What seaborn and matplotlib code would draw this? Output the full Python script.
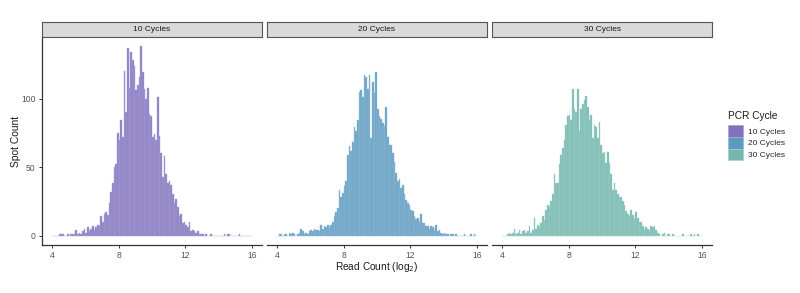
import numpy as np
import pandas as pd
import matplotlib
matplotlib.use("Agg")
import matplotlib.pyplot as plt
import seaborn as sns
from matplotlib.patches import Patch

# ---------------- data ----------------
cycles = ["10 Cycles", "20 Cycles", "30 Cycles"]
bin_start = 4.0
bin_width = 0.1
x_ticks = [4, 8, 12, 16]
y_ticks = [0, 50, 100]

# spot counts per 0.1-wide log2 read-count bin, starting at 4.0
counts_10 = [0, 0, 0, 0, 1, 1, 1, 0, 0, 1,
             0, 1, 1, 1, 4, 1, 2, 1, 3, 5,
             2, 6, 3, 5, 7, 4, 6, 8, 7, 14,
             10, 16, 17, 15, 24, 32, 38, 50, 52, 75,
             70, 84, 72, 120, 90, 137, 108, 134, 128, 124,
             106, 110, 116, 138, 119, 107, 100, 108, 89, 87,
             72, 74, 70, 101, 73, 60, 43, 58, 45, 38,
             40, 37, 30, 24, 27, 21, 14, 16, 9, 10,
             8, 6, 10, 3, 4, 3, 2, 3, 1, 1,
             1, 0, 1, 0, 0, 1, 0, 0, 0, 0,
             0, 0, 0, 1, 0, 1, 1, 0, 0, 0,
             0, 0, 1, 0, 0, 0, 0, 0, 0, 0]
counts_20 = [0, 1, 1, 0, 1, 1, 0, 2, 1, 2,
             1, 0, 1, 2, 5, 3, 1, 2, 1, 3,
             4, 3, 5, 4, 4, 3, 8, 5, 7, 6,
             8, 6, 8, 10, 14, 17, 20, 33, 28, 31,
             36, 40, 59, 65, 62, 68, 79, 76, 84, 105,
             106, 101, 117, 116, 107, 117, 71, 112, 104, 119,
             92, 87, 85, 82, 80, 94, 72, 66, 66, 60,
             54, 46, 40, 41, 35, 37, 30, 26, 24, 22,
             19, 18, 14, 12, 13, 10, 16, 9, 9, 7,
             7, 5, 7, 6, 4, 8, 3, 4, 2, 1,
             2, 1, 1, 0, 1, 1, 0, 1, 0, 0,
             0, 0, 1, 0, 0, 0, 1, 0, 1, 0]
counts_30 = [0, 0, 0, 1, 2, 1, 2, 5, 1, 2,
             4, 1, 3, 4, 2, 3, 7, 2, 4, 13,
             5, 8, 6, 9, 14, 11, 19, 22, 21, 25,
             30, 45, 38, 38, 52, 59, 64, 70, 81, 87,
             88, 84, 107, 92, 90, 107, 76, 92, 96, 99,
             102, 94, 84, 88, 71, 81, 79, 71, 83, 66,
             60, 61, 53, 61, 53, 45, 33, 38, 33, 30,
             28, 28, 25, 22, 18, 16, 14, 19, 15, 12,
             17, 13, 10, 10, 7, 4, 6, 5, 3, 7,
             6, 7, 4, 2, 1, 0, 1, 2, 0, 1,
             1, 0, 1, 0, 0, 0, 0, 0, 1, 0,
             0, 0, 0, 1, 0, 1, 0, 1, 0, 0]

fill_colors = ["#8C80C4", "#6CA3C6", "#7DBDB4"]
edge_colors = ["#ABA2D5", "#93BCD6", "#A0D0C8"]
key_colors = ["#7F71BB", "#5F9BC0", "#73B7AE"]

all_counts = [counts_10, counts_20, counts_30]
n_bins = len(counts_10)
bin_end = bin_start + bin_width * n_bins
centers = bin_start + bin_width * (np.arange(n_bins) + 0.5)

frames = []
for c, cnt in zip(cycles, all_counts):
    frames.append(pd.DataFrame({"cycle": c, "read": centers, "spots": cnt}))
df = pd.concat(frames, ignore_index=True)

# ---------------- figure ----------------
sns.set_theme(style="ticks")
plt.rcParams["font.family"] = ["Liberation Sans", "DejaVu Sans"]

W, H = 800, 293
fig = plt.figure(figsize=(W / 100, H / 100), dpi=100)

def fx(px):
    return px / W

def fy(py):
    return 1 - py / H

panel_left = [42, 267, 492]
panel_w = 220
top_px, bot_px = 37, 245
strip_top = 22

axis_col = "#333333"
tick_col = "#555555"
tick_size = 6.2
small = 6.0

for i, (c, left) in enumerate(zip(cycles, panel_left)):
    ax = fig.add_axes([fx(left), fy(bot_px), fx(panel_w), (bot_px - top_px) / H])
    sub = df[df["cycle"] == c]
    sns.histplot(data=sub, x="read", weights="spots", binwidth=bin_width,
                 binrange=(bin_start, bin_end), ax=ax,
                 color=fill_colors[i], edgecolor=edge_colors[i], linewidth=0.3,
                 alpha=1.0)
    ax.set_xlim(3.4, 16.6)
    ax.set_ylim(-6.9, 144.9)
    ax.set_xticks(x_ticks)
    ax.set_xticklabels([str(t) for t in x_ticks])
    ax.set_xlabel("")
    ax.set_ylabel("")
    for s in ["top", "right"]:
        ax.spines[s].set_visible(False)
    ax.spines["bottom"].set_color(axis_col)
    ax.spines["bottom"].set_linewidth(0.9)
    ax.tick_params(axis="x", length=2.5, width=0.7, color=axis_col,
                   labelsize=tick_size, labelcolor=tick_col, pad=2)
    if i == 0:
        ax.set_yticks(y_ticks)
        ax.set_yticklabels([str(t) for t in y_ticks])
        ax.spines["left"].set_color(axis_col)
        ax.spines["left"].set_linewidth(0.9)
        ax.tick_params(axis="y", length=2.5, width=0.7, color=axis_col,
                       labelsize=tick_size, labelcolor=tick_col, pad=2)
    else:
        ax.spines["left"].set_visible(False)
        ax.set_yticks([])
    ax.set_facecolor("white")

    # facet strip
    sax = fig.add_axes([fx(left), fy(top_px), fx(panel_w), (top_px - strip_top) / H])
    sax.set_facecolor("#D9D9D9")
    sax.set_xticks([])
    sax.set_yticks([])
    for s in sax.spines.values():
        s.set_color("#555555")
        s.set_linewidth(0.8)
    sax.text(0.5, 0.48, c, ha="center", va="center", fontsize=small,
             color="#1A1A1A", transform=sax.transAxes)

fig.text(fx(16), fy(141), "Spot Count", rotation=90, ha="center", va="center",
         fontsize=7.4, color="#1A1A1A")
fig.text(fx(377), fy(267), "Read Count (log$_2$)", ha="center", va="center",
         fontsize=7.3, color="#1A1A1A")

# legend
fig.text(fx(727.5), fy(116), "PCR Cycle", ha="left", va="center",
         fontsize=7.3, color="#1A1A1A")
handles = [Patch(facecolor=key_colors[i], edgecolor=edge_colors[i], linewidth=0.5)
           for i in range(3)]
leg = fig.legend(handles, cycles, loc="upper left",
                 bbox_to_anchor=(fx(727.5), fy(125)), frameon=False,
                 fontsize=small, handlelength=1.8, handleheight=1.8,
                 handletextpad=0.7, labelspacing=0.0,
                 borderaxespad=0.0, borderpad=0.0)

fig.savefig("out.png", dpi=100)
